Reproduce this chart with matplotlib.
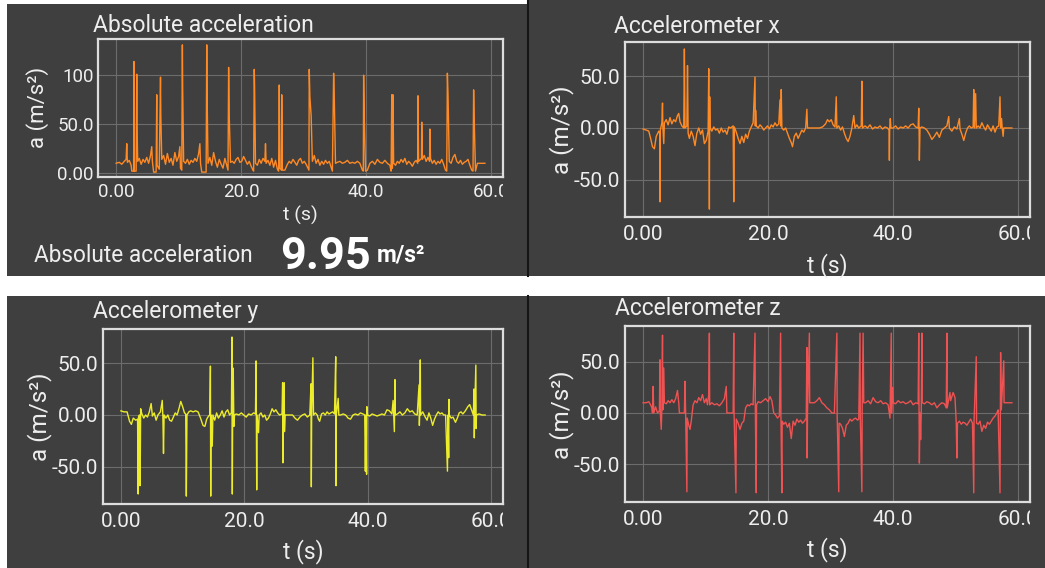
import matplotlib
matplotlib.use("Agg")
import matplotlib.pyplot as plt
from matplotlib.patches import Rectangle
from matplotlib.transforms import Bbox, TransformedBbox

plt.rcParams['font.family'] = ['Roboto', 'DejaVu Sans']

# ---------------- data ----------------
x_ticks = [0, 20, 40, 60]
x_tick_labels = ["0.00", "20.0", "40.0", "60.0"]
abs_y_ticks = [0, 50, 100]
abs_y_tick_labels = ["0.00", "50.0", "100"]
xyz_y_ticks = [-50, 0, 50]
xyz_y_tick_labels = ["-50.0", "0.00", "50.0"]

abs_points = [
    (0.0, 10), (0.5, 11), (0.9, 9), (1.3, 12), (1.6, 14), (1.7, 30), (1.8, 11), (2.1, 13), (2.4, 8), (2.5, 2), (2.8, 2),
    (2.85, 114), (2.9, 2), (3.2, 2), (3.3, 101), (3.35, 47), (3.45, 12),
    (3.7, 15), (4.0, 9), (4.3, 14), (4.6, 11), (4.9, 16), (5.2, 10), (5.5, 18), (5.7, 27), (5.8, 12), (6.0, 1), (6.4, 1),
    (6.5, 80), (6.55, 8), (6.9, 4), (7.1, 98), (7.15, 59), (7.3, 14),
    (7.6, 18), (7.9, 9), (8.2, 20), (8.5, 11), (8.8, 15), (9.1, 8), (9.4, 21), (9.7, 12), (10.0, 17), (10.2, 27), (10.3, 5),
    (10.5, 3), (10.6, 131), (10.65, 85), (10.8, 12),
    (11.1, 10), (11.4, 14), (11.7, 9), (12.0, 13), (12.3, 11), (12.6, 15), (12.9, 12), (13.2, 20), (13.4, 30), (13.5, 10),
    (13.7, 1), (14.4, 1), (14.5, 131), (14.55, 85), (14.7, 10),
    (15.0, 16), (15.3, 8), (15.6, 21), (15.9, 12), (16.2, 6), (16.5, 14), (16.8, 9), (17.1, 5), (17.4, 15), (17.7, 8),
    (17.9, 3), (18.0, 108), (18.1, 57), (18.3, 11),
    (18.6, 12), (18.9, 10), (19.2, 14), (19.5, 16), (19.8, 11), (20.1, 12), (20.4, 17), (20.7, 13), (21.0, 9), (21.3, 12),
    (21.6, 7), (21.9, 3), (22.0, 2), (22.1, 106), (22.15, 90), (22.3, 10),
    (22.6, 8), (22.9, 14), (23.2, 10), (23.5, 15), (23.8, 12), (23.9, 30), (24.0, 10), (24.3, 13), (24.6, 8), (24.9, 15),
    (25.2, 6), (25.5, 13), (25.8, 4), (26.0, 2), (26.1, 90), (26.2, 5), (26.45, 3), (26.5, 80), (26.6, 3),
    (27.0, 3), (27.4, 9), (27.7, 12), (28.0, 10), (28.3, 14), (28.6, 11), (28.9, 8), (29.2, 13), (29.5, 15), (29.8, 10),
    (30.1, 12), (30.4, 9), (30.7, 5), (30.85, 3), (30.9, 106), (31.0, 78), (31.2, 59), (31.4, 12),
    (31.7, 18), (32.0, 10), (32.3, 14), (32.6, 8), (32.9, 12), (33.2, 9), (33.5, 13), (33.8, 10), (34.1, 12), (34.4, 6),
    (34.6, 2), (34.8, 102), (34.9, 78), (35.1, 10),
    (35.4, 11), (35.8, 12), (36.2, 10), (36.6, 11), (37.0, 13), (37.4, 10), (37.8, 11), (38.2, 10), (38.6, 12), (39.0, 10),
    (39.4, 3), (39.55, 2), (39.6, 100), (39.7, 57), (39.9, 2),
    (40.2, 3), (40.6, 10), (41.0, 12), (41.4, 9), (41.8, 14), (42.2, 11), (42.6, 10), (43.0, 13), (43.4, 10), (43.8, 8),
    (44.0, 2), (44.1, 80), (44.2, 5), (44.3, 80), (44.4, 10),
    (44.7, 8), (45.0, 12), (45.3, 10), (45.6, 14), (45.9, 11), (46.2, 15), (46.5, 9), (46.8, 12), (47.1, 10), (47.4, 7),
    (47.7, 11), (48.0, 13), (48.25, 10), (48.3, 79), (48.4, 12), (48.85, 15), (48.9, 52), (49.0, 14),
    (49.3, 18), (49.6, 12), (49.9, 16), (50.15, 12), (50.2, 45), (50.3, 15), (50.6, 10), (50.9, 13), (51.2, 9), (51.5, 12),
    (51.8, 10), (52.1, 14), (52.4, 9), (52.7, 3), (52.9, 2), (53.0, 102), (53.1, 81), (53.3, 12),
    (53.6, 10), (53.9, 16), (54.2, 19), (54.5, 12), (54.8, 10), (55.1, 13), (55.4, 9), (55.7, 11), (56.0, 12), (56.3, 14),
    (56.6, 8), (56.9, 3), (57.1, 2), (57.2, 85), (57.3, 52), (57.5, 2),
    (57.8, 10), (58.1, 10), (58.4, 10), (58.7, 10), (59.0, 10),
]

acc_x_points = [
    (0.0, -1), (0.5, -2), (0.9, -3), (1.2, -10), (1.5, -18), (1.8, -20), (2.1, -8), (2.5, -3), (2.65, -5), (2.7, -71),
    (2.75, -2), (3.0, 5), (3.1, 24), (3.15, 2), (3.3, -15), (3.4, 5),
    (3.7, 8), (4.0, 3), (4.3, 10), (4.6, 4), (4.9, 8), (5.2, 6), (5.5, 12), (5.7, 14), (5.9, 6), (6.2, 2), (6.5, 0),
    (6.6, 76), (6.7, 0), (7.0, 2), (7.1, 60), (7.2, -5), (7.4, -10),
    (7.7, -3), (8.0, -8), (8.3, -17), (8.6, -5), (8.9, 0), (9.2, -6), (9.5, -2), (9.8, -15), (10.1, -12), (10.4, -3),
    (10.5, 57), (10.55, 2), (10.6, -78), (10.65, 30), (10.7, 0),
    (11.0, -3), (11.3, 1), (11.6, -2), (11.9, -1), (12.2, -5), (12.5, 0), (12.8, -4), (13.1, -2), (13.4, -6), (13.7, 1),
    (14.0, 0), (14.4, 2), (14.5, -71), (14.6, 1),
    (14.9, -4), (15.2, -10), (15.5, -15), (15.8, -8), (16.1, -14), (16.4, -6), (16.7, -10), (17.0, -3), (17.3, 1),
    (17.6, 5), (17.9, 49), (17.95, 2), (18.0, 17), (18.1, 2),
    (18.4, 0), (18.7, 3), (19.0, 1), (19.3, -2), (19.6, 0), (19.9, 2), (20.2, -1), (20.5, 3), (20.8, 1), (21.1, 5),
    (21.4, 2), (21.7, 4), (21.9, 27), (22.0, 2), (22.1, 37), (22.2, 0),
    (22.5, -2), (22.8, 0), (23.1, -5), (23.4, -10), (23.7, -14), (23.9, -18), (24.2, -8), (24.5, -5), (24.8, -10),
    (25.1, -6), (25.4, -2), (25.7, -4), (26.0, 0), (26.2, 18), (26.3, 0),
    (26.7, 0), (27.2, 0), (27.7, 0), (28.2, 0), (28.7, 1), (29.2, 4), (29.5, 8), (29.8, 6), (30.1, 8), (30.4, 3),
    (30.7, 1), (30.9, 30), (31.0, 0), (31.3, 2),
    (31.6, -2), (31.9, 1), (32.2, -5), (32.5, -10), (32.8, -13), (33.1, -8), (33.4, 0), (33.7, 12), (33.9, 0), (34.2, 3),
    (34.5, 0), (34.9, 2), (35.0, 45), (35.1, 0),
    (35.5, 2), (35.9, 0), (36.3, 3), (36.7, -1), (37.1, 1), (37.5, 0), (37.9, 2), (38.3, -1), (38.7, 1), (39.1, 0),
    (39.35, -2), (39.4, -31), (39.45, 0), (39.55, 9), (39.65, 0),
    (40.0, 0), (40.4, 2), (40.8, -1), (41.2, 1), (41.6, 0), (42.0, 2), (42.4, 0), (42.8, 3), (43.2, 4), (43.6, 1),
    (44.0, 0), (44.1, 19), (44.15, 0), (44.2, -31), (44.3, 0),
    (44.6, 1), (45.0, 0), (45.4, -2), (45.8, -6), (46.2, -11), (46.6, -8), (47.0, -4), (47.4, -9), (47.8, -2), (48.2, 0),
    (48.6, 2), (48.9, 11), (49.0, 0), (49.4, -3),
    (49.8, 1), (50.2, -1), (50.6, 9), (50.7, -1), (51.0, -6), (51.3, -12), (51.6, -5), (51.9, 0), (52.2, 2), (52.5, 0),
    (52.8, 1), (52.9, 37), (53.0, 0), (53.2, 33), (53.3, 0),
    (53.6, 2), (53.9, 0), (54.2, 5), (54.5, 1), (54.8, -2), (55.1, 3), (55.4, 0), (55.7, -3), (56.0, 2), (56.3, -4),
    (56.6, 1), (56.9, 2), (57.1, 30), (57.2, 0), (57.35, 9), (57.45, 0), (57.6, -8), (57.7, 0),
    (58.0, 0), (58.5, 0), (59.0, 0),
]

acc_y_points = [
    (0.0, 4), (0.5, 3), (1.0, 3), (1.4, -6), (1.7, -9), (2.0, -3), (2.4, -5), (2.7, -4), (2.8, -76), (2.85, -2),
    (3.0, 0), (3.1, -68), (3.15, -38), (3.2, 6), (3.4, 1),
    (3.7, -3), (4.0, 0), (4.3, -2), (4.6, 3), (4.9, 11), (5.1, -1), (5.4, 2), (5.7, -5), (6.0, 0), (6.4, 3), (6.7, 14),
    (6.8, -2), (6.9, -37), (7.0, 0), (7.3, -3),
    (7.6, 0), (7.9, -5), (8.2, -6), (8.5, -2), (8.8, 2), (9.1, 0), (9.4, 6), (9.7, 13), (10.0, 8), (10.3, 2), (10.5, 1),
    (10.6, -78), (10.7, 0), (11.0, 3),
    (11.3, 4), (11.7, 3), (12.1, 4), (12.5, 3), (12.9, -3), (13.3, -10), (13.6, -11), (13.9, -4), (14.2, -1), (14.4, 0),
    (14.5, 47), (14.55, -78), (14.6, 0), (14.8, -30), (14.9, 0),
    (15.2, -5), (15.5, 2), (15.8, -3), (16.1, 0), (16.4, 4), (16.7, -2), (17.0, 3), (17.3, 5), (17.6, 0), (17.9, 2),
    (18.0, 75), (18.05, -76), (18.1, 0), (18.2, 45), (18.3, -11), (18.4, 0),
    (18.7, 1), (19.1, 0), (19.5, 2), (19.9, 0), (20.3, -2), (20.7, 1), (21.1, 0), (21.5, 2), (21.8, 1), (21.9, 52),
    (22.0, -72), (22.05, 0), (22.3, -17), (22.4, 0),
    (22.7, 2), (23.0, -2), (23.3, 0), (23.6, -5), (23.9, -3), (24.2, 1), (24.5, 6), (24.8, 3), (25.1, 5), (25.4, 2),
    (25.7, 0), (26.1, 1), (26.2, 31), (26.25, -46), (26.3, 0), (26.45, 31), (26.5, -16), (26.6, 0),
    (27.0, 0), (27.4, 0), (27.8, 0), (28.2, -3), (28.6, -5), (29.0, -2), (29.4, 0), (29.8, 1), (30.2, -2), (30.6, 0),
    (30.8, 30), (30.85, -69), (30.9, 0), (31.1, 55), (31.2, 0),
    (31.5, 2), (31.8, 0), (32.0, -4), (32.2, -6), (32.5, 1), (32.8, 2), (33.1, 0), (33.4, 3), (33.7, 1), (34.0, 2),
    (34.3, 3), (34.6, 1), (34.8, 56), (34.85, -68), (34.9, 0), (35.2, 16), (35.3, 0),
    (35.6, 0), (36.0, 1), (36.4, 0), (36.8, -3), (37.2, -4), (37.6, 0), (38.0, 1), (38.4, 0), (38.8, 2), (39.2, 1),
    (39.5, 0), (39.6, -54), (39.7, 0), (39.8, -57), (39.85, 8), (39.95, 0),
    (40.3, -1), (40.7, 1), (41.1, 0), (41.5, -1), (41.9, 0), (42.3, 1), (42.7, 0), (43.1, 5), (43.5, 4), (43.9, 1),
    (44.1, 14), (44.2, 0), (44.3, -16), (44.4, 34), (44.45, 0),
    (44.8, 1), (45.2, 3), (45.6, 0), (46.0, 2), (46.4, 6), (46.8, 3), (47.2, 4), (47.6, 1), (48.0, 0), (48.3, 29),
    (48.35, -10), (48.4, 0), (48.5, 53), (48.55, 0),
    (48.9, 3), (49.3, -2), (49.6, -5), (49.9, 2), (50.2, -3), (50.5, -10), (50.8, -4), (51.1, 0), (51.4, 3), (51.7, 1),
    (52.0, 2), (52.3, 0), (52.6, 0), (52.9, -54), (53.0, 0), (53.1, -41), (53.15, 15), (53.2, 0),
    (53.5, -3), (53.8, -2), (54.2, -7), (54.5, -3), (54.8, 2), (55.1, 3), (55.4, 1), (55.8, 4), (56.2, 8), (56.5, 10),
    (56.8, 5), (57.1, 0), (57.2, 25), (57.25, -22), (57.3, 0), (57.5, 48), (57.55, -13), (57.6, 0),
    (58.0, 1), (58.5, 0), (59.0, 0),
]

acc_z_points = [
    (0.0, 10), (0.5, 10), (0.9, 11), (1.2, 8), (1.4, 5), (1.5, 0), (1.6, 26), (1.7, 0), (2.0, 6), (2.3, 0), (2.6, 2),
    (2.7, 52), (2.75, 0), (2.9, -16), (3.0, 5), (3.1, 76), (3.15, 3), (3.3, 44), (3.4, 10),
    (3.7, 9), (4.0, 12), (4.3, 10), (4.6, 13), (4.9, 10), (5.2, 14), (5.5, 22), (5.7, 10), (5.8, 0), (6.2, 0), (6.6, 0),
    (6.7, 31), (6.8, 0), (7.0, -77), (7.05, -5),
    (7.3, -12), (7.5, -16), (7.7, -8), (8.0, 8), (8.3, 12), (8.6, 10), (8.9, 15), (9.2, 12), (9.5, 18), (9.8, 10),
    (10.1, 14), (10.3, 8), (10.5, 18), (10.6, 78), (10.65, 8),
    (11.0, 10), (11.4, 8), (11.8, 9), (12.2, 7), (12.6, 10), (13.0, 14), (13.3, 26), (13.4, 0), (14.0, 0), (14.4, 0),
    (14.5, 78), (14.55, 0), (14.85, -78), (14.9, -6),
    (15.2, -10), (15.5, -16), (15.8, -10), (16.1, -8), (16.4, 5), (16.7, 8), (17.0, 7), (17.3, 9), (17.6, 8),
    (17.9, 78), (17.95, 5), (18.1, -78), (18.15, 8),
    (18.4, 11), (18.8, 10), (19.2, 12), (19.6, 14), (20.0, 11), (20.3, 16), (20.6, 12), (20.9, 0), (21.2, -2),
    (21.5, -5), (21.8, -3), (22.0, 78), (22.05, -5), (22.2, -78), (22.25, -8),
    (22.5, -11), (22.8, -9), (23.1, -14), (23.4, -10), (23.7, -25), (24.0, -8), (24.3, -12), (24.6, -6), (24.9, -9),
    (25.2, -7), (25.5, -10), (25.8, -8), (26.1, -5), (26.2, 64), (26.25, -44), (26.3, 0), (26.6, 78), (26.65, 10),
    (27.0, 10), (27.4, 10), (27.8, 12), (28.2, 15), (28.6, 10), (29.0, 8), (29.4, 5), (29.8, 3), (30.2, 0), (30.6, 0),
    (31.0, 78), (31.05, -3), (31.3, -77), (31.35, -10),
    (31.6, -11), (31.9, -15), (32.2, -23), (32.5, -12), (32.8, -10), (33.1, -6), (33.4, -8), (33.7, -6), (34.0, -5),
    (34.3, -7), (34.5, -6), (34.7, 78), (34.75, -5), (35.0, -77), (35.05, 5), (35.2, 78), (35.3, 10),
    (35.6, 10), (36.0, 12), (36.4, 9), (36.8, 15), (37.2, 11), (37.6, 10), (38.0, 12), (38.4, 9), (38.8, 10), (39.2, 8),
    (39.5, -5), (39.7, 78), (39.75, 0), (39.9, 25), (40.0, 10),
    (40.4, 9), (40.8, 12), (41.2, 10), (41.6, 11), (42.0, 9), (42.4, 10), (42.8, 12), (43.2, 8), (43.6, 10), (44.0, 9),
    (44.1, 78), (44.15, 0), (44.2, -49), (44.3, 0), (44.4, -26), (44.5, 0), (44.6, 78), (44.65, 10),
    (45.0, 9), (45.4, 11), (45.8, 10), (46.2, 8), (46.6, 10), (47.0, 5), (47.4, 8), (47.8, 10), (48.2, 9), (48.5, 5),
    (48.6, 78), (48.65, 5), (49.1, 20), (49.2, 12), (49.6, 20), (49.9, 15),
    (50.1, -10), (50.2, -44), (50.3, -10), (50.6, -8), (50.9, -11), (51.2, -9), (51.5, -10), (51.8, -12), (52.1, -9),
    (52.4, -6), (52.7, -10), (52.9, -78), (52.95, -8), (53.3, 55), (53.35, -10),
    (53.6, -11), (53.9, -8), (54.2, -18), (54.5, -12), (54.8, -15), (55.1, -9), (55.4, -11), (55.7, -8), (56.0, -5),
    (56.3, -3), (56.6, 0), (56.8, 3), (57.1, -78), (57.15, 0), (57.2, 59), (57.3, 3), (57.7, 51), (57.75, 10),
    (58.2, 10), (59.0, 10),
]

current_abs_value = "9.95"

# ---------------- styling ----------------
W, H = 1045, 568
BG = '#3f3f3f'
FG = '#eeeeee'
FRAME = '#dddddd'
GRID = '#6c6c6c'
ORANGE = '#ff8a24'
YELLOW = '#ecec2a'
RED = '#ee5252'

fig = plt.figure(figsize=(W / 100, H / 100), dpi=100, facecolor='white')


def fx(x):
    return x / W


def fy(y):
    return 1 - y / H


def panel(x0, y0, x1, y1):
    fig.add_artist(Rectangle((fx(x0), fy(y1)), fx(x1 - x0), (y1 - y0) / H,
                             transform=fig.transFigure, facecolor=BG, edgecolor='none', zorder=0))


panel(7, 4, 527, 276)
panel(527, 0, 1045, 276)
panel(7, 296, 527, 568)
panel(527, 296, 1045, 568)
for (ya, yb) in [(0, 276), (296, 568)]:
    fig.add_artist(plt.Line2D([fx(527.5), fx(527.5)], [fy(ya), fy(yb)], transform=fig.transFigure,
                              color='#151515', lw=1.5, zorder=1))


def make_axes(box, points, color, yticks, yticklabels, ylim, title, title_pos, ylab_pos, xlab_pos,
              tick_fs, title_fs, ylab_fs, xlab_fs, ypad, xpad):
    x0, y0, x1, y1 = box
    ax = fig.add_axes([fx(x0), fy(y1), fx(x1 - x0), (y1 - y0) / H])
    ax.set_facecolor(BG)
    t = [p[0] for p in points]
    v = [p[1] for p in points]
    ax.plot(t, v, color=color, lw=1.0, zorder=3)
    ax.set_xlim(-2.9, 61.9)
    ax.set_ylim(*ylim)
    ax.set_xticks(x_ticks)
    ax.set_xticklabels(x_tick_labels)
    ax.set_yticks(yticks)
    ax.set_yticklabels(yticklabels)
    ax.tick_params(length=0, colors=FG, labelsize=tick_fs)
    ax.tick_params(axis='y', pad=ypad)
    ax.tick_params(axis='x', pad=xpad)
    ax.grid(True, color=GRID, lw=0.8)
    for s in ax.spines.values():
        s.set_color(FRAME)
        s.set_linewidth(1.6)
        s.set_zorder(4)
    ax.set_xlabel("t (s)", color=FG, fontsize=xlab_fs)
    ax.set_ylabel("a (m/s²)", color=FG, fontsize=ylab_fs)
    ax.xaxis.set_label_coords(fx(xlab_pos[0]), fy(xlab_pos[1]), transform=fig.transFigure)
    ax.yaxis.set_label_coords(fx(ylab_pos[0]), fy(ylab_pos[1]), transform=fig.transFigure)
    ax.xaxis.label.set_va('center')
    ax.yaxis.label.set_va('center')
    fig.text(fx(title_pos[0]), fy(title_pos[1]), title, color=FG, fontsize=title_fs,
             ha='left', va='baseline')
    # the right-most x tick label is cut off at the frame edge, as in the app
    clip = TransformedBbox(Bbox.from_extents(0, 0, fx(x1), 1), fig.transFigure)
    for lbl in ax.get_xticklabels():
        lbl.set_clip_on(True)
        lbl.set_clip_box(clip)
    return ax


make_axes((98, 39, 503, 177), abs_points, ORANGE, abs_y_ticks, abs_y_tick_labels, (-4, 137),
          "Absolute acceleration", (93, 32), (38, 107), (300, 215),
          tick_fs=13.5, title_fs=16.5, ylab_fs=16, xlab_fs=14, ypad=3, xpad=4.5)
make_axes((625, 42, 1030, 217), acc_x_points, ORANGE, xyz_y_ticks, xyz_y_tick_labels, (-85.6, 82.7),
          "Accelerometer x", (614, 33), (562, 130), (827, 266),
          tick_fs=15, title_fs=16.5, ylab_fs=17.5, xlab_fs=16.5, ypad=3.5, xpad=6)
make_axes((103, 329, 503, 504), acc_y_points, YELLOW, xyz_y_ticks, xyz_y_tick_labels, (-85.6, 82.7),
          "Accelerometer y", (93, 318), (40, 417), (303, 552),
          tick_fs=15, title_fs=16.5, ylab_fs=17.5, xlab_fs=16.5, ypad=3.5, xpad=6)
make_axes((625, 326, 1030, 502), acc_z_points, RED, xyz_y_ticks, xyz_y_tick_labels, (-87, 85),
          "Accelerometer z", (615, 315), (562, 415), (827, 550),
          tick_fs=15, title_fs=16.5, ylab_fs=17.5, xlab_fs=16.5, ypad=3.5, xpad=6)

# current value readout under the first graph
fig.text(fx(34), fy(262), "Absolute acceleration", color=FG, fontsize=16.3, ha='left', va='baseline')
fig.text(fx(280), fy(269), current_abs_value, color='white', fontsize=32.5, fontweight='bold',
         ha='left', va='baseline')
fig.text(fx(377), fy(262), "m/s²", color='white', fontsize=16.5, fontweight='bold', ha='left', va='baseline')

fig.savefig("out.png", dpi=100, facecolor='white')
